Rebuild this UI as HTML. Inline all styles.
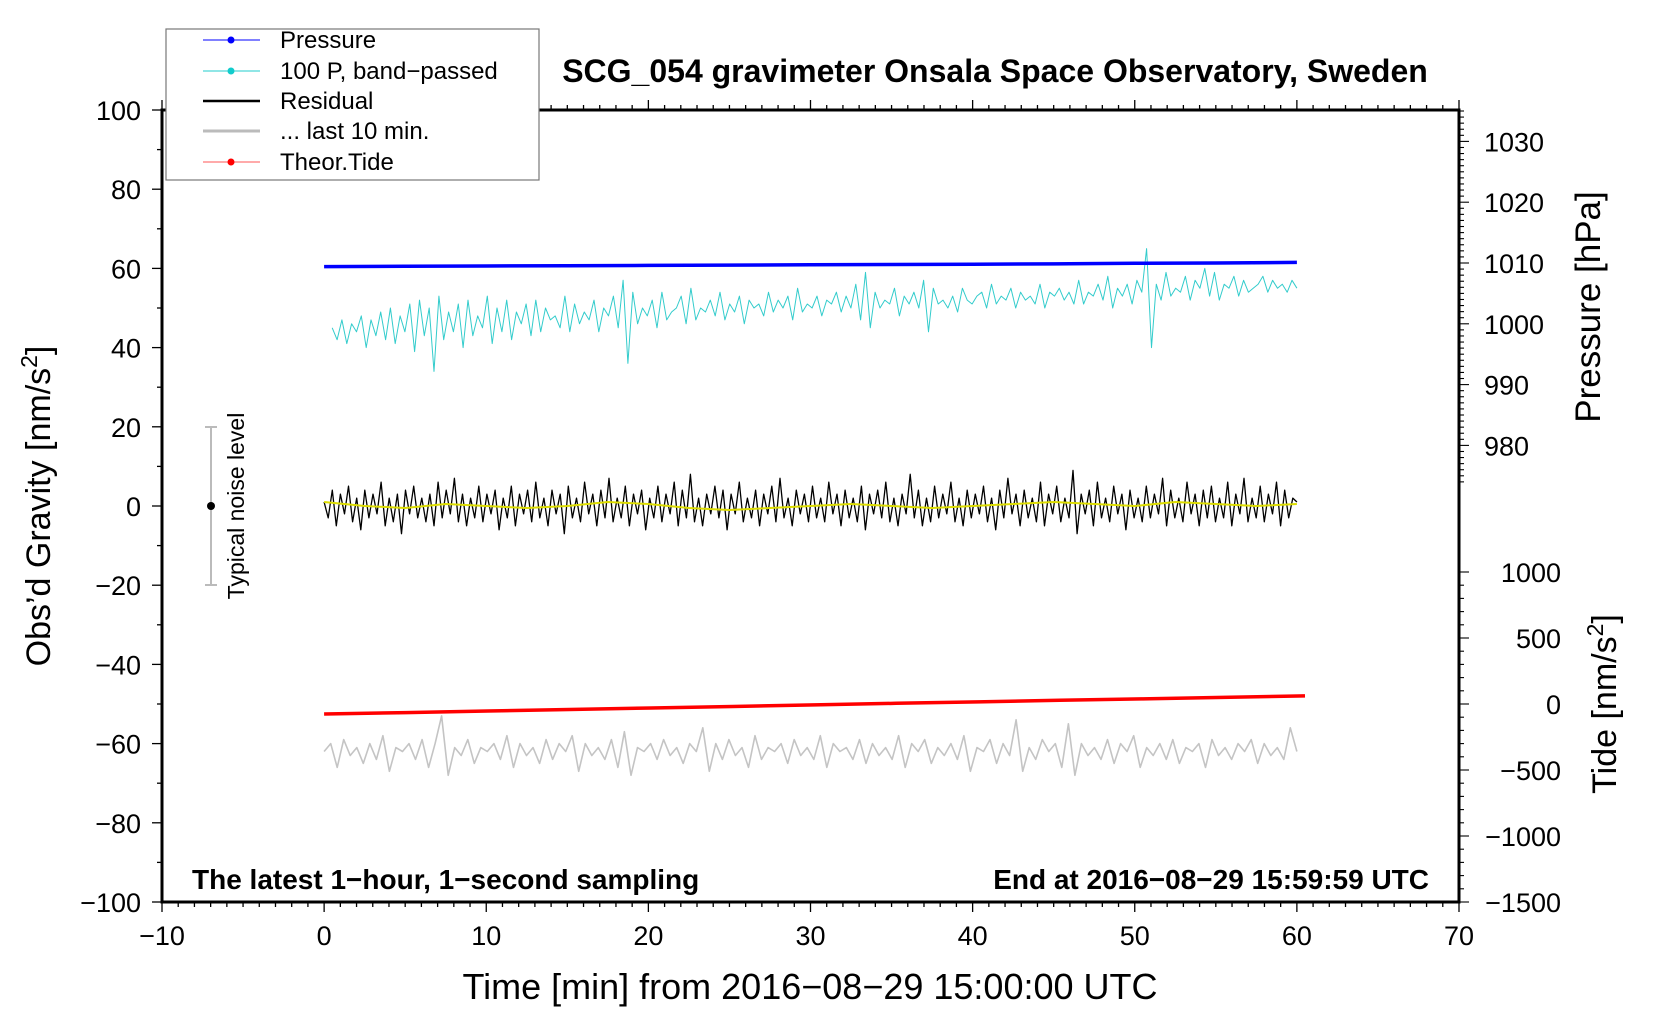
<!DOCTYPE html>
<html><head><meta charset="utf-8"><style>
html,body{margin:0;padding:0;background:#fff;}
svg{display:block;font-family:"Liberation Sans",sans-serif;}
</style></head><body>
<svg id="chart" width="1660" height="1020" viewBox="0 0 1660 1020">
<g id="marks"></g>
<g id="axes"></g>
<text x="995" y="82" font-size="32" font-weight="bold" text-anchor="middle">SCG_054 gravimeter Onsala Space Observatory, Sweden</text>
<text x="810" y="999" font-size="36" text-anchor="middle">Time [min] from 2016−08−29 15:00:00 UTC</text>
<text transform="translate(50,506) rotate(-90)" font-size="34" text-anchor="middle">Obs’d Gravity [nm/s<tspan dy="-13" font-size="23">2</tspan><tspan dy="13">]</tspan></text>
<text transform="translate(1600,307) rotate(-90)" font-size="35" text-anchor="middle">Pressure [hPa]</text>
<text transform="translate(1616,704) rotate(-90)" font-size="34" text-anchor="middle">Tide [nm/s<tspan dy="-13" font-size="23">2</tspan><tspan dy="13">]</tspan></text>
<text x="192" y="889" font-size="28" font-weight="bold">The latest 1−hour, 1−second sampling</text>
<text x="1429" y="889" font-size="28" font-weight="bold" text-anchor="end">End at 2016−08−29 15:59:59 UTC</text>
<g>
<line x1="211" y1="427" x2="211" y2="585" stroke="#bbb" stroke-width="2"/>
<line x1="205" y1="427" x2="217" y2="427" stroke="#bbb" stroke-width="2"/>
<line x1="205" y1="585" x2="217" y2="585" stroke="#bbb" stroke-width="2"/>
<circle cx="211" cy="506" r="4" fill="#000"/>
<text transform="translate(244,506) rotate(-90)" font-size="23" text-anchor="middle">Typical noise level</text>
</g>
<g>
<rect x="166" y="29" width="373" height="151" fill="#fff" stroke="#777" stroke-width="1.2"/>
<g><line x1="203" y1="40" x2="260" y2="40" stroke="#00f" stroke-width="1"/><circle cx="231" cy="40" r="3.5" fill="#00f"/><text x="280" y="48" font-size="24">Pressure</text></g>
<g><line x1="203" y1="71" x2="260" y2="71" stroke="#2cc" stroke-width="1"/><circle cx="231" cy="71" r="3.5" fill="#1cc"/><text x="280" y="79" font-size="24">100 P, band−passed</text></g>
<g><line x1="203" y1="101" x2="260" y2="101" stroke="#000" stroke-width="2.5"/><text x="280" y="109" font-size="24">Residual</text></g>
<g><line x1="203" y1="131" x2="260" y2="131" stroke="#bbb" stroke-width="3"/><text x="280" y="139" font-size="24">... last 10 min.</text></g>
<g><line x1="203" y1="162" x2="260" y2="162" stroke="#f55" stroke-width="1"/><circle cx="231" cy="162" r="3.5" fill="#f00"/><text x="280" y="170" font-size="24">Theor.Tide</text></g>
</g>
</svg>
<script>
const xTicks=[-10,0,10,20,30,40,50,60,70];
const yTicks=[-100,-80,-60,-40,-20,0,20,40,60,80,100];
const pressureTicks=[980,990,1000,1010,1020,1030];
const tideTicks=[-1500,-1000,-500,0,500,1000];
const pressureValues=[1009.4,1009.45,1009.5,1009.55,1009.6,1009.65,1009.7,1009.75,1009.8,1009.85,1009.95,1010.0,1010.1];
const tideValues=[-76,-65,-53,-42,-30,-19,-7,5,16,28,39,50,61];
const bandpassed=[45,42,47,41,46,44,48,40,47,43,49,42,50,41,48,44,51,39,52,43,50,34,53,42,49,44,51,40,52,43,48,45,53,41,50,44,52,42,49,46,51,43,52,44,50,47,48,45,53,44,
51,46,49,47,52,44,50,48,53,45,57,36,54,46,50,48,52,45,54,47,49,50,53,46,55,47,50,49,52,48,54,47,51,49,53,46,52,50,51,48,54,49,52,50,53,47,55,49,51,50,
53,48,52,51,54,49,53,50,56,47,59,45,54,50,52,51,55,48,53,51,54,50,57,44,55,51,52,50,53,49,55,52,51,53,54,50,56,51,53,52,55,50,54,52,53,51,56,50,54,53,
55,52,54,51,57,51,54,53,56,52,58,50,55,53,56,51,57,54,65,40,56,52,59,53,55,54,58,52,57,55,60,53,59,52,56,55,58,53,57,54,55,56,58,54,57,55,56,54,57,55];
const residual=[1,-3,4,-5,3,-2,5,-4,2,-6,4,-3,3,-2,6,-5,2,-4,3,-7,4,-2,5,-3,2,-4,3,-5,6,-3,4,-2,7,-4,3,-5,2,-3,5,-4,
3,-2,4,-6,2,-3,5,-5,3,-2,4,-4,6,-3,2,-5,4,-2,3,-7,5,-3,2,-4,6,-2,3,-5,4,-3,7,-4,2,-3,5,-5,3,-2,4,-6,
2,-3,5,-4,3,-2,6,-5,4,-3,8,-4,2,-5,3,-2,5,-3,4,-6,3,-2,6,-4,2,-3,4,-5,3,-2,5,-4,7,-3,2,-5,4,-2,3,-4,
5,-3,2,-4,6,-2,3,-5,4,-3,2,-4,5,-6,3,-2,4,-3,6,-4,2,-5,3,-2,8,-3,4,-5,2,-4,5,-3,3,-2,6,-4,2,-5,4,-3,
3,-2,5,-4,2,-6,4,-3,7,-2,3,-5,4,-3,2,-4,6,-5,3,-2,5,-4,2,-3,9,-7,3,-2,4,-5,6,-3,2,-4,5,-2,3,-6,4,-3,
2,-4,5,-3,3,-2,7,-5,4,-3,2,-4,6,-2,3,-5,4,-3,5,-4,2,-3,6,-5,3,-2,7,-4,2,-3,5,-4,3,-2,6,-5,4,-3,2,1];
const smoothed=[1,0,-0.5,0.5,0,-0.5,0,1,0.5,-0.5,-1,-0.5,0,0.5,0,-0.5,0,0.5,1,0.5,0,1,0.5,0,0.5];
const last10=[-62,-60,-66,-59,-63,-61,-65,-60,-64,-58,-67,-61,-62,-60,-64,-59,-66,-60,-53,-68,-61,-63,-59,-65,-61,-62,-60,-64,-58,-66,
-60,-63,-61,-65,-59,-64,-60,-62,-58,-67,-60,-63,-61,-64,-59,-66,-57,-68,-61,-62,-60,-64,-59,-63,-61,-65,-60,-62,-56,-67,
-60,-64,-59,-63,-61,-66,-58,-64,-61,-62,-60,-65,-59,-63,-61,-64,-58,-66,-60,-62,-61,-64,-59,-65,-60,-63,-61,-64,-58,-66,
-60,-62,-59,-65,-61,-63,-60,-64,-58,-67,-61,-62,-59,-65,-60,-63,-54,-67,-61,-64,-59,-62,-60,-66,-55,-68,-60,-63,-61,-64,
-59,-65,-60,-62,-58,-66,-61,-63,-60,-64,-59,-65,-61,-62,-60,-66,-59,-63,-61,-64,-60,-62,-59,-65,-60,-63,-61,-64,-56,-62];

const L=162,R=1459,T=110,B=902;
const xs=t=>L+(t+10)*(R-L)/80;
const ys=v=>B-(v+100)*(B-T)/200;
const yp=p=>263-(p-1010)*6.08;
const yt=g=>704-g*0.132;
const NS='http://www.w3.org/2000/svg';
const marks=document.getElementById('marks'), axes=document.getElementById('axes');
function mk(tag,attrs,parent){const e=document.createElementNS(NS,tag);for(const k in attrs)e.setAttribute(k,attrs[k]);parent.appendChild(e);return e;}
function series(vals,t0,t1,yf,color,w,name){
  const pts=vals.map((v,i)=>xs(t0+i*(t1-t0)/(vals.length-1)).toFixed(1)+','+yf(v).toFixed(1)).join(' ');
  const el=mk('polyline',{points:pts,fill:'none',stroke:color,'stroke-width':w,'stroke-linejoin':'round'},marks);
  
  
}
series(last10,0,60,ys,'#c4c4c4',1.6,'last-10-min-line');
series(tideValues,0,60.5,yt,'#f00',3.5,'tide-line');
series(residual,0,60,ys,'#000',1.3,'residual-line');
series(smoothed,0,60,ys,'#dd0',2,'residual-smoothed-line');
series(bandpassed,0.5,60,ys,'#3cc',1,'bandpassed-pressure-line');
series(pressureValues,0,60,yp,'#00f',3.5,'pressure-line');

const fr=mk('rect',{x:L,y:T,width:R-L,height:B-T,fill:'none',stroke:'#000','stroke-width':3},axes);


for(let t=-10;t<=70;t++){
  const major=t%10===0, len=major?10:5;
  mk('line',{x1:xs(t),y1:B,x2:xs(t),y2:B+len,stroke:'#000','stroke-width':1.3},axes);
  mk('line',{x1:xs(t),y1:T,x2:xs(t),y2:T-len,stroke:'#000','stroke-width':1.3},axes);
}
xTicks.forEach(t=>{const e=mk('text',{x:xs(t),y:B+43,'font-size':27,'text-anchor':'middle'},axes);e.textContent=String(t).replace('-','−');

});
for(let v=-100;v<=100;v+=10){
  const len=v%20===0?10:5;
  mk('line',{x1:L,y1:ys(v),x2:L-len,y2:ys(v),stroke:'#000','stroke-width':1.3},axes);
}
yTicks.forEach(v=>{const e=mk('text',{x:141,y:ys(v)+10,'font-size':27,'text-anchor':'end'},axes);e.textContent=String(v).replace('-','−');

});
for(let p=974;p<=1035;p++){
  const len=p%10===0?10:5;
  mk('line',{x1:R,y1:yp(p),x2:R+len,y2:yp(p),stroke:'#000','stroke-width':1.1},axes);
}
pressureTicks.forEach(p=>{const e=mk('text',{x:1484,y:yp(p)+10,'font-size':27},axes);e.textContent=p;

});
for(let g=-1500;g<=1000;g+=100){
  const len=g%500===0?10:5;
  mk('line',{x1:R,y1:yt(g),x2:R+len,y2:yt(g),stroke:'#000','stroke-width':1.1},axes);
}
tideTicks.forEach(g=>{const e=mk('text',{x:1561,y:yt(g)+10,'font-size':27,'text-anchor':'end'},axes);e.textContent=String(g).replace('-','−');

});
</script>
</body></html>
